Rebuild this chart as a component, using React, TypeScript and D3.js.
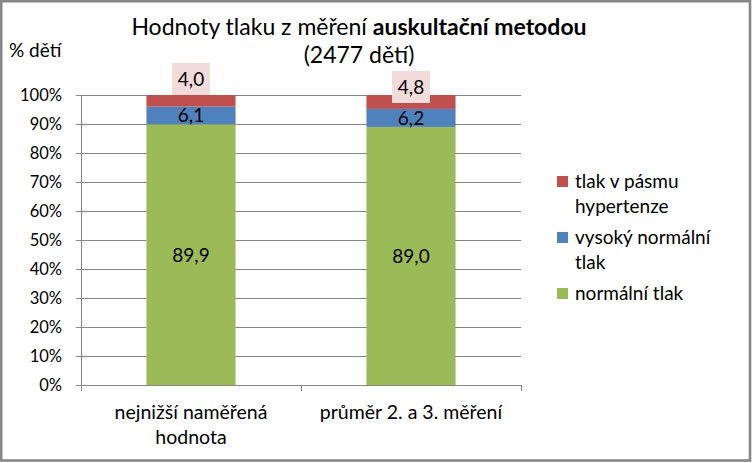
import React from "react";
import * as d3 from "d3";

const categories = ["nejnižší naměřená|hodnota", "průměr 2. a 3. měření"];
const seriesNames = ["normální tlak", "vysoký normální|tlak", "tlak v pásmu|hypertenze"];
const normal = [89.9, 89.0];
const highNormal = [6.1, 6.2];
const hypertension = [4.0, 4.8];
const yTicks = [0, 10, 20, 30, 40, 50, 60, 70, 80, 90, 100];
const colors = ["#9bbb59", "#4f81bd", "#c0504d"];

const W = 752, H = 463;
const FONT = "Lato, 'Open Sans', sans-serif";

export default function App() {
  const left = 81, right = 521, top = 95, bottom = 385;
  const p = 0.595;
  const x = d3.scaleBand<string>().domain(categories).range([left, right]).paddingInner(p).paddingOuter(p / 2);
  const y = d3.scaleLinear().domain([0, 100]).range([bottom, top]);
  const data = categories.map((c, i) => ({ cat: c, s0: normal[i], s1: highNormal[i], s2: hypertension[i] }));
  const stack = d3.stack<any>().keys(["s0", "s1", "s2"])(data);
  const bw = x.bandwidth();
  const fmt = (v: number) => v.toFixed(1).replace(".", ",");
  const step = (right - left) / categories.length;
  const labelOffsets = [-16, -8];

  return (
    <svg width={W} height={H} style={{ position: "absolute", left: 0, top: 0 }} fontFamily={FONT}>
      <rect x={0} y={0} width={W} height={H} fill="#fff" />
      <rect x={1.2} y={1.2} width={748.8} height={459.3} fill="none" stroke="#878787" strokeWidth={2.6} />
      <text x={359} y={35} textAnchor="middle" fontSize={23} fill="#000">
        Hodnoty tlaku z měření <tspan fontWeight="bold">auskultační metodou</tspan>
      </text>
      <text x={359} y={63} textAnchor="middle" fontSize={23} fill="#000">(2477 dětí)</text>
      <text x={9} y={57} fontSize={19} fill="#000">% dětí</text>
      {yTicks.map((t) => (
        <g key={t}>
          <line x1={76} x2={right} y1={Math.round(y(t)) + 0.5} y2={Math.round(y(t)) + 0.5} stroke="#868686" />
          <text x={62} y={y(t) + 6} textAnchor="end" fontSize={16.5} fill="#000">{t}%</text>
        </g>
      ))}
      <line x1={left + 0.5} x2={left + 0.5} y1={top} y2={bottom} stroke="#868686" />
      {[0, 1, 2].map((i) => (
        <line key={i} x1={left + i * step + 0.5} x2={left + i * step + 0.5} y1={bottom} y2={bottom + 6} stroke="#868686" />
      ))}
      {stack.map((layer, si) =>
        layer.map((d, ci) => (
          <rect key={si + "-" + ci} x={x(categories[ci])!} width={bw} y={y(d[1])} height={y(d[0]) - y(d[1])} fill={colors[si]} />
        ))
      )}
      {stack.map((layer, si) =>
        layer.map((d, ci) => {
          const cx = x(categories[ci])! + bw / 2;
          const v = d[1] - d[0];
          if (si === 2) {
            const cy = y(100) + labelOffsets[ci];
            return (
              <g key={"l" + si + ci}>
                <rect x={cx - 19} y={cy - 16} width={38} height={32} fill="#f2dcdb" />
                <text x={cx} y={cy + 7} textAnchor="middle" fontSize={19} fill="#000">{fmt(v)}</text>
              </g>
            );
          }
          const cy = y((d[0] + d[1]) / 2);
          return (
            <text key={"l" + si + ci} x={cx} y={cy + 7} textAnchor="middle" fontSize={19} fill="#000">{fmt(v)}</text>
          );
        })
      )}
      {categories.map((c) => {
        const lines = c.split("|");
        return (
          <text key={c} textAnchor="middle" fontSize={19.5} fill="#000">
            {lines.map((l, i) => (
              <tspan key={i} x={x(c)! + bw / 2} y={419 + i * 25}>{l}</tspan>
            ))}
          </text>
        );
      })}
      {[2, 1, 0].map((si, k) => {
        const ys = [181, 237, 293][k];
        const lines = seriesNames[si].split("|");
        return (
          <g key={si}>
            <rect x={557} y={ys - 5} width={11} height={11} fill={colors[si]} />
            <text fontSize={19} fill="#000">
              {lines.map((l, i) => (
                <tspan key={i} x={575} y={ys + 7 + i * 25}>{l}</tspan>
              ))}
            </text>
          </g>
        );
      })}
    </svg>
  );
}
